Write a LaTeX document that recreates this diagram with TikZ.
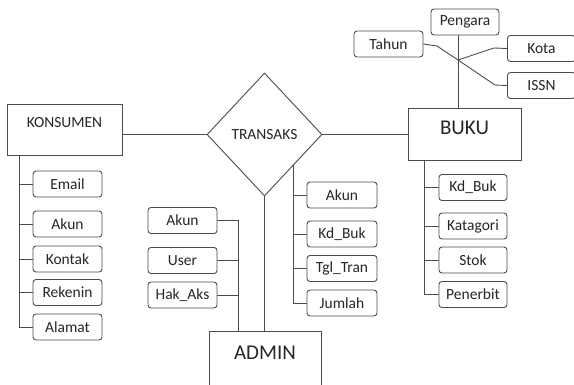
\documentclass[tikz,border=0pt]{standalone}
\usepackage{fontspec}
\setmainfont{Carlito}
\usetikzlibrary{shapes.geometric}
\begin{document}
\begin{tikzpicture}[x=1pt,y=-1pt,
  every node/.style={inner sep=0pt, text=black!85},
  ln/.style={draw=black!70, line width=0.9pt},
  attr/.style={ln, rectangle, rounded corners=3pt, minimum width=69pt, minimum height=26pt, font=\fontsize{15.5}{17}\selectfont},
  ent/.style={ln, rectangle, font=\fontsize{15.5}{17}\selectfont},
  bigent/.style={ln, rectangle, font=\fontsize{21}{23}\selectfont},
  rel/.style={ln, diamond, minimum width=115pt, minimum height=123pt, font=\fontsize{15.5}{17}\selectfont}
]
\useasboundingbox (0,0) rectangle (574,384);
\fill[white] (0,0) rectangle (574,384);

% entities
\node[ent, minimum width=115pt, minimum height=51pt, text height=11pt, text depth=16pt] (kons) at (64.5,129.5) {KONSUMEN};
\node[rel] (tr) at (264.5,134.5) {TRANSAKS};
\node[bigent, minimum width=113pt, minimum height=52pt, text height=14pt, text depth=13pt] (buku) at (464.5,134) {BUKU};
\node[bigent, minimum width=112pt, minimum height=55pt, text height=14pt, text depth=12pt] (adm) at (265,358.5) {ADMIN};

% KONSUMEN attributes
\node[attr] (kemail) at (67.5,184) {Email};
\node[attr] (kakun) at (67.5,224) {Akun};
\node[attr] (kkontak) at (67.5,259) {Kontak};
\node[attr] (krek) at (67.5,292.5) {Rekenin};
\node[attr] (kalamat) at (67.5,327) {Alamat};
\coordinate (kx) at (19,155);

% ADMIN attributes
\node[attr] (aakun) at (182.5,220.5) {Akun};
\node[attr] (auser) at (182.5,260.5) {User};
\node[attr] (ahak) at (182.5,295) {Hak\_Aks};
\coordinate (ax) at (238,331);

% TRANSAKS attributes
\node[attr, minimum width=70pt] (takun) at (342,195) {Akun};
\node[attr, minimum width=70pt] (tkd) at (342,234) {Kd\_Buk};
\node[attr, minimum width=70pt] (ttgl) at (342,268.5) {Tgl\_Tran};
\node[attr, minimum width=70pt] (tjml) at (342,303) {Jumlah};

% BUKU attributes
\node[attr, minimum width=68pt] (bkd) at (473,187.5) {Kd\_Buk};
\node[attr, minimum width=68pt] (bkat) at (473,226) {Katagori};
\node[attr, minimum width=68pt] (bstok) at (473,260) {Stok};
\node[attr, minimum width=68pt] (bpen) at (473,294.5) {Penerbit};
\coordinate (bx) at (424,160);

% BUKU top attributes
\node[attr, minimum width=68pt] (peng) at (465,22) {Pengara};
\node[attr] (tahun) at (388.5,44) {Tahun};
\node[attr, minimum width=68pt, anchor=west] (kota) at (507,48.5) {Kota};
\node[attr, minimum width=68pt, anchor=west] (issn) at (507,85.5) {ISSN};
\coordinate (j) at (458,60);
\coordinate (ta1) at (437,46);
\coordinate (is1) at (495,85);
\coordinate (ko1) at (494,48);

% relationship connectors
\draw[ln] (tr.west) -- (tr.west -| kons.east);
\draw[ln] (tr.east) -- (tr.east -| buku.west);
\draw[ln] (tr.south) -- (tr.south |- adm.north);

% KONSUMEN attribute connectors
\draw[ln] (kx) -- (kx |- kalamat) -- (kalamat.west);
\foreach \n in {kemail,kakun,kkontak,krek} \draw[ln] (kx |- \n) -- (\n.west);

% ADMIN attribute connectors
\draw[ln] (aakun.east) -- (ax |- aakun) -- (ax);
\foreach \n in {auser,ahak} \draw[ln] (\n.east) -- (ax |- \n);

% TRANSAKS attribute connectors
\draw[ln] (tr.south east) -- (tr.south east |- tjml) -- (tjml.west);
\foreach \n in {takun,tkd,ttgl} \draw[ln] (tr.south east |- \n) -- (\n.west);

% BUKU attribute connectors
\draw[ln] (bx) -- (bx |- bpen) -- (bpen.west);
\foreach \n in {bkd,bkat,bstok} \draw[ln] (bx |- \n) -- (\n.west);

% BUKU top connectors
\draw[ln] (j |- peng.south) -- (j |- buku.north);
\draw[ln] (tahun.east) -- (ta1) -- (j) -- (is1) -- (issn.west);
\draw[ln] (kota.west) -- (ko1) -- (j);
\end{tikzpicture}
\end{document}
